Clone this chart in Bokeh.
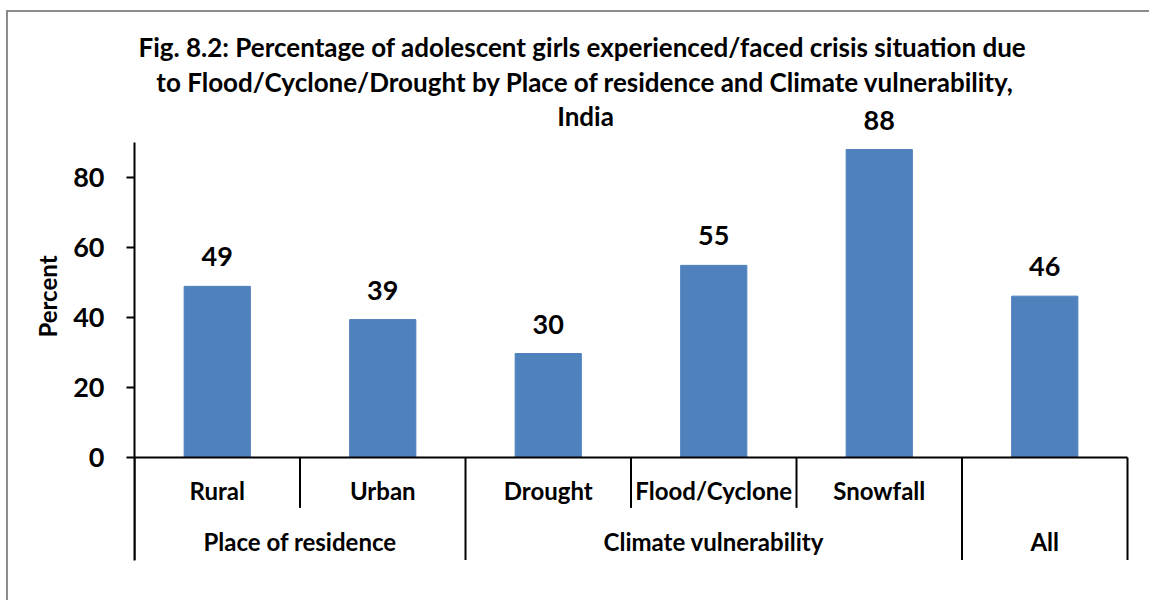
import numpy as np
from bokeh.plotting import figure
from bokeh.models import Range1d, FixedTicker, ColumnDataSource, Label
from bokeh.core.properties import value
from bokeh.embed import file_html
from bokeh.resources import INLINE

# ---- data ----
categories = ["Rural", "Urban", "Drought", "Flood/Cyclone", "Snowfall", ""]
groups = ["Place of residence", "Place of residence",
          "Climate vulnerability", "Climate vulnerability", "Climate vulnerability",
          "All"]
percent = [48.9, 39.4, 29.7, 54.9, 88.0, 46.1]
y_ticks = [0, 20, 40, 60, 80]
title_lines = [
    "Fig. 8.2: Percentage of adolescent girls  experienced/faced crisis situation due",
    "to Flood/Cyclone/Drought by Place of residence and Climate vulnerability,",
    "India",
]
y_label = "Percent"

FONT = value("Lato")
BAR = "#4F81BD"

n = len(categories)
centers = np.arange(n) + 0.5

# group runs
g_start, g_end, g_name = [], [], []
for i, g in enumerate(groups):
    if i == 0 or groups[i - 1] != g:
        g_start.append(i)
        g_name.append(g)
        if i > 0:
            g_end.append(i)
g_end.append(n)
g_mid = [(s + e) / 2 for s, e in zip(g_start, g_end)]
outer_b = sorted(set(g_start + g_end))
inner_b = [i for i in range(1, n) if groups[i - 1] == groups[i]]

Y_BOTTOM = -29.3
Y_SUB = -14.4

p = figure(
    width=1149, height=600,
    frame_width=995, frame_height=532,
    x_range=Range1d(0, 6.012), y_range=Range1d(-30, 122),
    output_backend="svg", toolbar_location=None,
    min_border_left=134, min_border_top=30, min_border_right=20, min_border_bottom=38,
)
p.title = None
p.outline_line_color = None
p.xgrid.visible = False
p.ygrid.visible = False
p.xaxis.visible = False
p.background_fill_color = "white"
p.border_fill_color = None
p.styles = {
    "background-color": "white",
    "background-image": "linear-gradient(#8c8c8c,#8c8c8c), linear-gradient(#8c8c8c,#8c8c8c)",
    "background-position": "6px 10px, 6px 10px",
    "background-size": "2px 100%, 100% 2px",
    "background-repeat": "no-repeat",
}

ya = p.yaxis[0]
ya.ticker = FixedTicker(ticks=y_ticks)
ya.bounds = (Y_BOTTOM, 90.1)
ya.axis_line_width = 2
ya.axis_line_color = "black"
ya.major_tick_line_width = 2
ya.major_tick_line_color = "black"
ya.major_tick_out = 8
ya.major_tick_in = 0
ya.minor_tick_line_color = None
ya.major_label_standoff = 22
ya.major_label_text_font = "Lato"
ya.major_label_text_font_style = "bold"
ya.major_label_text_font_size = "27px"
ya.major_label_text_color = "black"
ya.axis_label = y_label
ya.axis_label_text_font = "Lato"
ya.axis_label_text_font_style = "bold"
ya.axis_label_text_font_size = "24px"
ya.axis_label_text_color = "black"
ya.axis_label_standoff = 8

src = ColumnDataSource(dict(
    x=centers, top=percent,
    label=[f"{v:.0f}" for v in percent],
    ly=np.array(percent) + 8.4,
    cat=categories,
))

p.vbar(x="x", top="top", bottom=0, width=0.4, source=src,
       fill_color=BAR, line_color=BAR)

p.text(x="x", y="ly", text="label", source=src,
       text_font=FONT, text_font_style="bold", text_font_size="27px",
       text_align="center", text_baseline="alphabetic", text_color="black")

# x axis line and separators
p.segment(x0=[0], y0=[0], x1=[n], y1=[0], line_color="black", line_width=2)
p.segment(x0=outer_b, y0=0, x1=outer_b, y1=Y_BOTTOM, line_color="black", line_width=2)
p.segment(x0=inner_b, y0=0, x1=inner_b, y1=Y_SUB, line_color="black", line_width=2)

# category labels
p.text(x="x", y=-9.4, text="cat", source=src,
       text_font=FONT, text_font_style="bold", text_font_size="24px",
       text_align="center", text_baseline="alphabetic", text_color="black")
p.text(x=g_mid, y=[-24.0] * len(g_mid), text=g_name,
       text_font=FONT, text_font_style="bold", text_font_size="24px",
       text_align="center", text_baseline="alphabetic", text_color="black")

# title
for txt, yy in zip(title_lines, [117.2, 107.2, 97.7]):
    p.add_layout(Label(x=2.725, y=yy, text=txt, text_font="Lato",
                       text_font_style="bold", text_font_size="26px",
                       text_align="center", text_baseline="alphabetic",
                       text_color="black"))

open("out.html", "w").write(file_html(p, INLINE))
